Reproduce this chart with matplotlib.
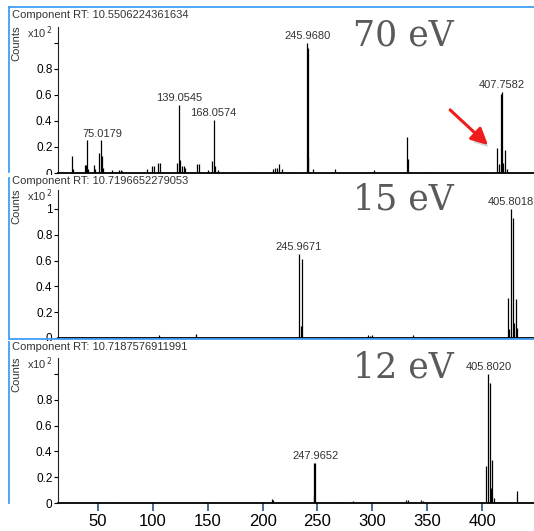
import matplotlib.pyplot as plt
import matplotlib.patheffects as pe
from matplotlib.lines import Line2D

# spectrum data (m/z, counts x10^2)
mz_70 = [50.0, 50.9, 60.5, 61.4, 62.5, 63.4, 68.4, 69.2, 72.5, 74.2, 75.0179, 75.9,
         83.4, 89.2, 90.9, 91.7, 112.5, 116.7, 118.4, 121.7, 123.4, 137.5, 139.0545,
         140.0, 141.7, 143.4, 144.2, 154.2, 155.9, 163.4, 166.7, 168.0574, 169.2, 171.7,
         189.2, 202.5, 217.5, 219.2, 220.8, 222.5, 225.0, 234.2, 245.9680, 247.0, 246.5,
         250.8, 252.5, 269.2, 300.0, 301.7, 329.2, 330.0, 345.8, 393.3, 404.1, 405.8,
         407.7582, 408.6, 409.3, 410.8, 412.5]
int_70 = [0.13, 0.03, 0.06, 0.06, 0.25, 0.03, 0.06, 0.03, 0.15, 0.25, 0.13, 0.04,
          0.02, 0.02, 0.02, 0.015, 0.03, 0.05, 0.05, 0.08, 0.08, 0.08, 0.52,
          0.10, 0.05, 0.05, 0.04, 0.07, 0.07, 0.02, 0.09, 0.41, 0.05, 0.02,
          0.01, 0.01, 0.03, 0.04, 0.04, 0.07, 0.03, 0.01, 1.0, 0.96, 0.12,
          0.03, 0.01, 0.03, 0.01, 0.02, 0.28, 0.11, 0.01, 0.01, 0.19, 0.07,
          0.61, 0.62, 0.08, 0.18, 0.03]
lab_70 = [75.0179, 139.0545, 168.0574, 245.9680, 407.7582]

mz_15 = [74.8, 140.4, 168.3, 225.6, 245.9671, 248.2, 247.1, 271.6, 281.4, 298.0,
         299.5, 301.0, 331.9, 343.2, 356.0, 403.5, 404.3, 405.8018, 407.3, 408.1,
         409.6, 410.3, 417.1]
int_15 = [0.01, 0.02, 0.03, 0.01, 0.65, 0.61, 0.09, 0.01, 0.01, 0.02,
          0.015, 0.02, 0.02, 0.01, 0.01, 0.31, 0.07, 1.0, 0.93, 0.12,
          0.30, 0.08, 0.01]
lab_15 = [245.9671, 405.8018]

mz_12 = [65.5, 147.5, 194.9, 208.6, 209.5, 246.5, 247.9652, 247.3, 257.8, 259.6,
         268.8, 273.3, 282.4, 330.7, 332.6, 344.4, 346.2, 404.0, 405.8020, 407.3,
         408.0, 408.9, 410.5, 416.0, 419.0, 423.0, 431.9]
int_12 = [0.005, 0.01, 0.01, 0.03, 0.02, 0.31, 0.31, 0.06, 0.01, 0.01,
          0.01, 0.01, 0.015, 0.02, 0.02, 0.02, 0.015, 0.29, 1.0, 0.93,
          0.12, 0.33, 0.04, 0.01, 0.01, 0.01, 0.09]
lab_12 = [247.9652, 405.8020]

titles = ['Component RT: 10.5506224361634',
          'Component RT: 10.7196652279053',
          'Component RT: 10.7187576911991']
energies = ['70 eV', '15 eV', '12 eV']
xlims = [(38.4, 434.9), (64.3, 423.1), (13.5, 447.4)]
ylims = [1.123, 1.147, 1.124]
xticks = [50, 100, 150, 200, 250, 300, 350, 400]

W, H = 534, 531
fig = plt.figure(figsize=(W / 100, H / 100), dpi=100)
plt.rcParams['font.family'] = ['Liberation Sans', 'DejaVu Sans']

# axes boxes in pixels: (top, bottom), and title rows
boxes = [(27, 173), (190, 338), (358, 503)]
title_y = [15, 181, 347]
left_px = 58
blue = '#3fa0f5'

spectra = [(mz_70, int_70, lab_70), (mz_15, int_15, lab_15), (mz_12, int_12, lab_12)]
axes = []
for i, ((top, bot), (mz, inten, labs)) in enumerate(zip(boxes, spectra)):
    ax = fig.add_axes([left_px / W, 1 - bot / H, (W - left_px) / W, (bot - top) / H])
    axes.append(ax)
    ax.vlines(mz, 0, inten, color='black', lw=0.9)
    for m in labs:
        h = max(v for x, v in zip(mz, inten) if abs(x - m) < 1.2)
        ax.text(m, h + 0.015, f'{m:.4f}', ha='center', va='bottom', fontsize=8, color='#333333')
    ax.set_xlim(*xlims[i])
    ax.set_ylim(0, ylims[i])
    for s in ['top', 'right']:
        ax.spines[s].set_visible(False)
    ax.spines['left'].set_color('#222222')
    ax.spines['bottom'].set_color('black')
    ax.spines['bottom'].set_linewidth(1.3)
    ax.set_yticks([0, 0.2, 0.4, 0.6, 0.8, 1.0])
    ylab = ['0', '0.2', '0.4', '0.6', '0.8', '1' if i == 1 else '']
    ax.set_yticklabels(ylab)
    ax.tick_params(axis='y', length=3, width=0.8, labelsize=8.5, pad=1, colors='black')
    if i < 2:
        ax.set_xticks([])
    else:
        ax.set_xticks(xticks)
        ax.tick_params(axis='x', length=6, width=1.4, color='#4a6a8c', labelsize=12, pad=2)

    # panel text
    fig.text(12 / W, 1 - title_y[i] / H, titles[i], fontsize=8, color='#333333', va='center',
             ha='left', zorder=5,
             bbox=dict(facecolor='white', edgecolor='none', pad=0.5))
    fig.text(16 / W, 1 - (top + 16) / H, 'Counts', rotation=90, fontsize=8, color='#333333',
             va='center', ha='center')
    fig.text(27 / W, 1 - (top + 6) / H, 'x10$^{\\,2}$', fontsize=8, color='#333333', va='center', ha='left')
    fig.text(403 / W, 1 - (top + 9) / H, energies[i], fontsize=25, color='#5a5a5a',
             family='DejaVu Serif', va='center', ha='center')

# red arrow in the 70 eV panel
axes[0].annotate('', xy=(398.3, 0.2), xytext=(363.3, 0.5),
                 arrowprops=dict(arrowstyle='-|>,head_length=1.0,head_width=0.5',
                                 color='#ee1c1c', lw=2.2,
                                 path_effects=[pe.withSimplePatchShadow(offset=(2, -3),
                                                                        shadow_rgbFace='#999999',
                                                                        alpha=0.4)]))

# blue window frames
def fl(x0, y0, x1, y1):
    fig.add_artist(Line2D([x0 / W, x1 / W], [1 - y0 / H, 1 - y1 / H], color=blue, lw=1.3))

fl(9, 7, 534, 7)
fl(9, 7, 9, 172)
fl(9, 178, 9, 338)
fl(9, 339, 534, 339)
fl(9, 342, 9, 503)

fig.savefig('out.png', dpi=100)
